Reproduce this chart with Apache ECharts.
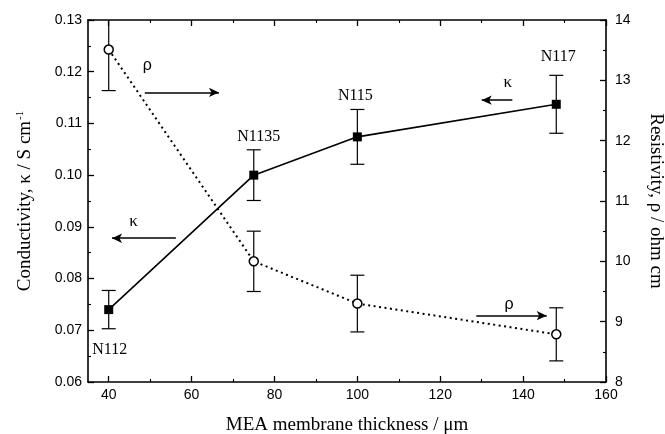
<!DOCTYPE html>
<html>
<head>
<meta charset="utf-8">
<script src="https://cdn.jsdelivr.net/npm/echarts@6/dist/echarts.min.js"></script>
<style>html,body{margin:0;padding:0;background:#fff;}#c{width:665px;height:434px;}</style>
</head>
<body>
<div id="c"></div>
<script>
const thickness = [40, 75, 100, 148];
const membranes = ['N112', 'N1135', 'N115', 'N117'];
const kappa = [0.0740, 0.1000, 0.1074, 0.1137];
const kappaErr = [0.0037, 0.0049, 0.0053, 0.0056];
const rho = [13.51, 10.00, 9.30, 8.79];
const rhoErr = [0.68, 0.50, 0.47, 0.44];
const xTicks = [40, 60, 80, 100, 120, 140, 160];
const xMinorTicks = [50, 70, 90, 110, 130, 150];
// annotation arrows [x1, y1, x2, y2] in data units
const kappaArrows = [[56.2, 0.0878, 40.8, 0.0878], [137.4, 0.1145, 130.0, 0.1145]];
const rhoArrows = [[48.7, 12.80, 66.6, 12.80], [128.7, 9.10, 145.7, 9.10]];
const kappaTexts = [[46.0, 0.0911], [136.3, 0.1180]];
const rhoTexts = [[49.3, 13.24], [136.6, 9.28]];
const labelOffsets = [[1, 40], [5, -38], [-2, -41], [2, -47]];

const chart = echarts.init(document.getElementById('c'));
const serif = '"Liberation Serif", "Times New Roman", serif';
const sans = '"Liberation Sans", Arial, sans-serif';
const axisLine = {show: true, lineStyle: {color: '#000', width: 1.6}};

function errBar() {
  return function (params, api) {
    const x = api.value(0);
    const lo = api.coord([x, api.value(1)]);
    const hi = api.coord([x, api.value(2)]);
    const w = 7;
    const style = {stroke: '#000', lineWidth: 1.2};
    return {
      type: 'group',
      children: [
        {type: 'line', shape: {x1: lo[0], y1: lo[1], x2: hi[0], y2: hi[1]}, style: style},
        {type: 'line', shape: {x1: lo[0] - w, y1: lo[1], x2: lo[0] + w, y2: lo[1]}, style: style},
        {type: 'line', shape: {x1: hi[0] - w, y1: hi[1], x2: hi[0] + w, y2: hi[1]}, style: style}
      ]
    };
  };
}

const arrowLine = (arr) => arr.map(a => [
  {coord: [a[0], a[1]]},
  {coord: [a[2], a[3]]}
]);
const textPts = (arr, t) => arr.map(a => ({coord: a, value: t}));

const option = {
  animation: false,
  backgroundColor: '#fff',
  grid: {left: 88, right: 59, top: 20, bottom: 52, containLabel: false, outerBoundsMode: 'none'},
  xAxis: [
    {
      type: 'value', min: 35, max: 160, position: 'bottom',
      name: 'MEA membrane thickness / μm', nameLocation: 'middle', nameGap: 34,
      nameTextStyle: {fontFamily: serif, fontSize: 19, color: '#000'},
      axisLine: axisLine,
      axisTick: {show: true, inside: true, length: 6, customValues: xTicks, lineStyle: {color: '#000', width: 1.3}},
      axisLabel: {customValues: xTicks, fontFamily: sans, fontSize: 14, color: '#000', margin: 6},
      splitLine: {show: false}
    },
    {
      type: 'value', min: 35, max: 160, position: 'bottom',
      axisLine: {show: false},
      axisTick: {show: true, inside: true, length: 3, customValues: xMinorTicks, lineStyle: {color: '#000', width: 1.1}},
      axisLabel: {show: false}, splitLine: {show: false}
    },
    {
      type: 'value', min: 35, max: 160, position: 'top',
      axisLine: axisLine,
      axisTick: {show: true, inside: true, length: 6, customValues: xTicks, lineStyle: {color: '#000', width: 1.3}},
      axisLabel: {show: false}, splitLine: {show: false}
    },
    {
      type: 'value', min: 35, max: 160, position: 'top',
      axisLine: {show: false},
      axisTick: {show: true, inside: true, length: 3, customValues: xMinorTicks, lineStyle: {color: '#000', width: 1.1}},
      axisLabel: {show: false}, splitLine: {show: false}
    }
  ],
  yAxis: [
    {
      type: 'value', min: 0.06, max: 0.13, interval: 0.01, position: 'left',
      name: '{n|Conductivity, κ / S cm}{s|-1}', nameLocation: 'middle', nameGap: 53, nameRotate: 90,
      nameTextStyle: {
        rich: {
          n: {fontFamily: serif, fontSize: 19, color: '#000'},
          s: {fontFamily: serif, fontSize: 11, color: '#000', verticalAlign: 'top', padding: [0, 0, 9, 1]}
        }
      },
      axisLine: axisLine,
      axisTick: {show: true, inside: true, length: 6, lineStyle: {color: '#000', width: 1.3}},
      minorTick: {show: true, splitNumber: 2, length: 3, lineStyle: {color: '#000', width: 1.1}},
      axisLabel: {formatter: v => v.toFixed(2), fontFamily: sans, fontSize: 14, color: '#000', margin: 6},
      splitLine: {show: false}
    },
    {
      type: 'value', min: 8, max: 14, interval: 1, position: 'right',
      name: 'Resistivity, ρ / ohm cm', nameLocation: 'middle', nameGap: 40, nameRotate: -90,
      nameTextStyle: {fontFamily: serif, fontSize: 19, color: '#000'},
      axisLine: axisLine,
      axisTick: {show: true, inside: true, length: 6, lineStyle: {color: '#000', width: 1.3}},
      minorTick: {show: true, splitNumber: 2, length: 3, lineStyle: {color: '#000', width: 1.1}},
      axisLabel: {fontFamily: sans, fontSize: 14, color: '#000', margin: 9},
      splitLine: {show: false}
    }
  ],
  series: [
    {
      type: 'line', name: 'rho', yAxisIndex: 1,
      data: thickness.map((x, i) => [x, rho[i]]),
      symbol: 'circle', symbolSize: 9, showAllSymbol: true,
      itemStyle: {color: '#fff', borderColor: '#000', borderWidth: 1.5},
      lineStyle: {color: '#000', width: 2, type: [2, 3.5]},
      z: 3,
      markLine: {
        silent: true, symbol: ['none', 'arrow'], symbolSize: [7, 10],
        label: {show: false},
        lineStyle: {color: '#000', width: 1.5, type: 'solid'},
        data: arrowLine(rhoArrows)
      },
      markPoint: {
        silent: true, symbol: 'circle', symbolSize: 1,
        itemStyle: {color: 'rgba(0,0,0,0)'},
        label: {show: true, position: 'inside', formatter: 'ρ', fontFamily: sans, fontSize: 16, color: '#000'},
        data: textPts(rhoTexts, 'ρ')
      }
    },
    {
      type: 'custom', name: 'rhoErr', yAxisIndex: 1, clip: true,
      renderItem: errBar(),
      data: thickness.map((x, i) => [x, rho[i] - rhoErr[i], rho[i] + rhoErr[i]]),
      z: 2
    },
    {
      type: 'line', name: 'kappa', yAxisIndex: 0,
      data: thickness.map((x, i) => ({
        value: [x, kappa[i]],
        label: {show: true, formatter: membranes[i], position: 'inside', offset: labelOffsets[i]}
      })),
      symbol: 'rect', symbolSize: 9, showAllSymbol: true,
      itemStyle: {color: '#000'},
      lineStyle: {color: '#000', width: 1.6},
      label: {fontFamily: serif, fontSize: 16, color: '#000'},
      z: 3,
      markLine: {
        silent: true, symbol: ['none', 'arrow'], symbolSize: [7, 10],
        label: {show: false},
        lineStyle: {color: '#000', width: 1.5, type: 'solid'},
        data: arrowLine(kappaArrows)
      },
      markPoint: {
        silent: true, symbol: 'circle', symbolSize: 1,
        itemStyle: {color: 'rgba(0,0,0,0)'},
        label: {show: true, position: 'inside', formatter: 'κ', fontFamily: serif, fontSize: 17, color: '#000'},
        data: textPts(kappaTexts, 'κ')
      }
    },
    {
      type: 'custom', name: 'kappaErr', yAxisIndex: 0, clip: true,
      renderItem: errBar(),
      data: thickness.map((x, i) => [x, kappa[i] - kappaErr[i], kappa[i] + kappaErr[i]]),
      z: 2
    }
  ]
};
chart.setOption(option);
</script>
</body>
</html>
